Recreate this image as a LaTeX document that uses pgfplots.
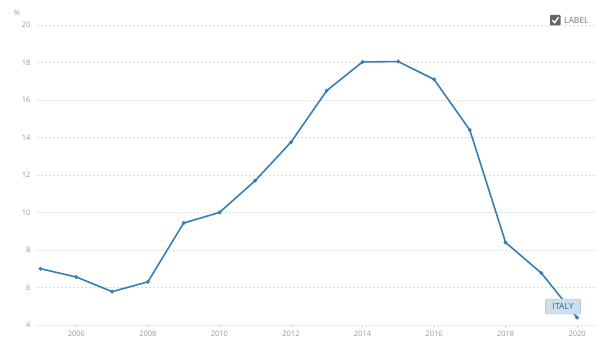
\documentclass[border=0pt]{standalone}
\usepackage{pgfplots}
\pgfplotsset{compat=1.18}
\usepackage{fontspec}
\setmainfont{Open Sans}
\definecolor{linec}{HTML}{3580B4}
\definecolor{tickc}{HTML}{9A9A9A}
\definecolor{gridc}{HTML}{DDDDDD}
\begin{document}
\begin{tikzpicture}[x=1pt,y=1pt]
\path[use as bounding box] (0,0) rectangle (600,354);
\begin{axis}[
  at={(37pt,29pt)}, anchor=south west,
  scale only axis, width=558pt, height=300pt,
  xmin=2004.9, xmax=2020.5, ymin=4, ymax=20,
  xtick={2006,2008,...,2020}, ytick={4,6,...,20},
  xticklabel style={/pgf/number format/1000 sep={}, font=\fontsize{7.5}{9}\selectfont, text=tickc},
  yticklabel style={font=\fontsize{7.5}{9}\selectfont, text=tickc},
  /pgf/number format/assume math mode=true,
  axis line style={draw=none},
  ymajorgrids, grid style={gridc, dash pattern=on 2pt off 2pt, line width=0.6pt},
  xtick pos=bottom, tick align=outside, major tick length=3pt,
  x tick style={gridc, line width=0.6pt},
  ytick style={draw=none},
  clip=false,
]
\addplot[linec, line width=1.6pt, mark=*, mark size=1pt, mark options={fill=linec!70!black, draw=none}] coordinates {
(2005,7.0)(2006,6.56)(2007,5.78)(2008,6.3)(2009,9.44)(2010,10.0)(2011,11.7)
(2012,13.75)(2013,16.5)(2014,18.03)(2015,18.05)(2016,17.1)(2017,14.4)
(2018,8.4)(2019,6.77)(2020,4.4)};
\node[fill=linec!25, draw=linec!55, rounded corners=1pt, minimum width=35pt, minimum height=15pt, inner sep=0pt, text=linec!85!black, font=\fontsize{8.5}{10}\selectfont] at (axis cs:2020,4.4) [xshift=-14pt, yshift=11pt] {ITALY};
\end{axis}
\node[text=tickc, font=\fontsize{7.5}{9}\selectfont] at (17,341) {\%};
\fill[gray!80!black, rounded corners=0.8pt] (550,328.5) rectangle (560.5,339);
\draw[white, line width=1.4pt] (552.3,333.8) -- (554.7,331.3) -- (558.5,336.8);
\node[anchor=west, text=gray!90!black, font=\fontsize{8.5}{10}\selectfont, inner sep=0pt] at (564,333.8) {LABEL};
\end{tikzpicture}
\end{document}
